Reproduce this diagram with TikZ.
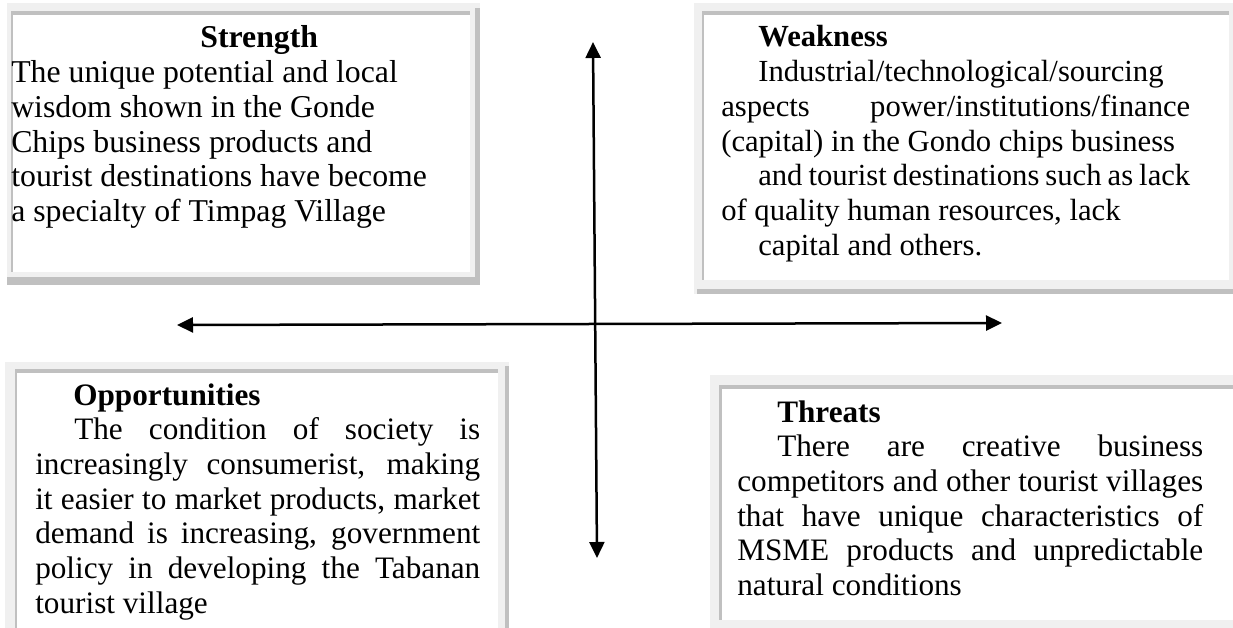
\documentclass[tikz,border=0pt]{standalone}
\usepackage{fontspec}
\setmainfont{Liberation Serif}
\usetikzlibrary{arrows.meta}
\newdimen\pxu
\pxu=0.025cm
\tolerance=10000
\hyphenpenalty=10000
\hbadness=10000
\definecolor{framelight}{HTML}{F0F0F0}
\definecolor{framedark}{HTML}{C0C0C0}
\tikzset{
  boxtext/.style={anchor=base west, inner sep=0pt, font=\fontsize{22.2pt}{24.7pt}\selectfont},
  axis/.style={line width=0.0625cm, <->, >={Triangle[length=4mm,width=3.75mm]}}
}
\begin{document}
\begin{tikzpicture}[x=0.025cm, y=-0.025cm]
            \useasboundingbox (0,0) rectangle (1233,628);

            % Drawing frame of Strength
            \fill [framelight] (7,3) rectangle (480,285);%
            \fill [white] (13,15) rectangle (470,272);%
            \fill [framedark] (11,11) rectangle (470,15);%
            \fill [framedark] (11,11) rectangle (13,272);%
            \fill [framedark] (475,8) rectangle (480,285);%
            \fill [framedark] (7,277) rectangle (480,285);%

            % Drawing frame of Weakness
            \fill [framelight] (694,3) rectangle (1233,294);%
            \fill [white] (704,15) rectangle (1229,280);%
            \fill [framedark] (702,11) rectangle (1229,15);%
            \fill [framedark] (702,11) rectangle (704,280);%
            \fill [framedark] (697,289) rectangle (1233,294);%

            % Drawing frame of Opportunities
            \fill [framelight] (5,362) rectangle (509,628);%
            \fill [white] (17,373) rectangle (498,628);%
            \fill [framedark] (15,369) rectangle (498,373);%
            \fill [framedark] (15,369) rectangle (17,628);%
            \fill [framedark] (505,366) rectangle (509,628);%

            % Drawing frame of Threats
            \fill [framelight] (710,375) rectangle (1233,628);%
            \fill [white] (722,389) rectangle (1233,620);%
            \fill [framedark] (719,385) rectangle (1233,389);%
            \fill [framedark] (719,385) rectangle (722,620);%

            % Marking text of Strength
            \node (strength) [boxtext, font=\fontsize{22.6pt}{24.7pt}\selectfont] at (11,48) {\parbox[t]{496\pxu}{\centering\textbf{Strength}\par
              \raggedright The unique potential and local\\
              wisdom shown in the Gonde\\
              Chips business products and\\
              tourist destinations have become\\
              a specialty of Timpag Village}};%

            % Marking text of Weakness
            \node (weakness) [boxtext, font=\fontsize{21.8pt}{24.7pt}\selectfont] at (721,47) {\parbox[t]{469\pxu}{\hspace*{37\pxu}\textbf{Weakness}\par
              \hspace*{37\pxu}Industrial/technological/sourcing\linebreak
              aspects power/institutions/finance\linebreak
              (capital) in the Gondo chips business\par
              \hspace*{37\pxu}and tourist destinations such as lack\linebreak
              of quality human resources, lack\par
              \hspace*{37\pxu}capital and others.}};%

            % Marking text of Opportunities
            \node (opportunities) [boxtext] at (35,405) {\parbox[t]{445\pxu}{\hspace*{38\pxu}\textbf{Opportunities}\par
              \hspace*{39\pxu}The condition of society is\linebreak
              increasingly consumerist, making\linebreak
              it easier to market products, market\linebreak
              demand is increasing, government\linebreak
              policy in developing the Tabanan\linebreak
              tourist village}};%

            % Marking text of Threats
            \node (threats) [boxtext] at (737,422) {\parbox[t]{466\pxu}{\hspace*{40\pxu}\textbf{Threats}\par
              \hspace*{40\pxu}There are creative business\linebreak
              competitors and other tourist villages\linebreak
              that have unique characteristics of\linebreak
              MSME products and unpredictable\linebreak
              natural conditions}};%

            % Marking ends of the axes
            \coordinate (vtop) at (593,42);%
            \coordinate (vbot) at (597,558);%
            \coordinate (hleft) at (177,325);%
            \coordinate (hright) at (1002,323);%

            % Drawing axes
            \draw [axis] (vtop) -- (vbot);%
            \draw [axis] (hleft) -- (hright);%
\end{tikzpicture}
\end{document}
